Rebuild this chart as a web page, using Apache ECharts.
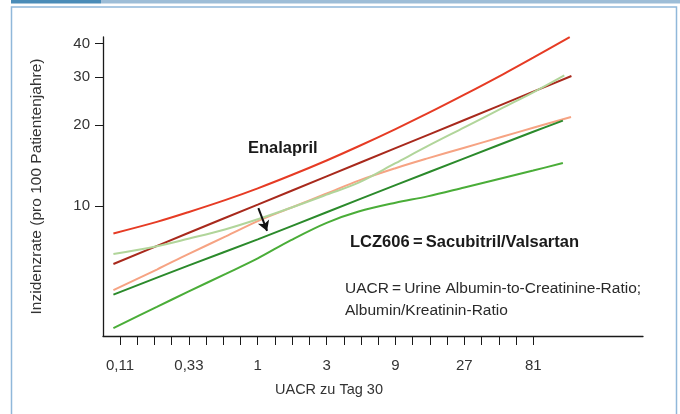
<!DOCTYPE html>
<html>
<head>
<meta charset="utf-8">
<script src="https://cdn.jsdelivr.net/npm/echarts@6/dist/echarts.min.js"></script>
<style>
html,body{margin:0;padding:0;background:#fff;}
#chart{width:680px;height:414px;}
</style>
</head>
<body>
<div id="chart"></div>
<script>
// ---- data ----
const uacrFine = [0.1, 0.2, 0.33, 0.6, 1, 1.7, 3, 5, 9, 15, 27, 50, 81];
const uacrCoarse = [0.1, 0.33, 1, 3, 9, 27, 81];

const enalaprilUpperX = uacrFine.concat([145]);
const enalaprilUpper = [7.93, 8.75, 9.50, 10.55, 11.64, 13.01, 14.76, 16.66, 19.29, 22.03, 25.85, 30.74, 35.42, 42.2];

const enalaprilMidX = uacrCoarse.concat([149]);
const enalaprilMid = [6.11, 7.96, 10.13, 12.89, 16.39, 20.84, 26.51, 30.3];

const enalaprilLowerX = uacrFine.concat([148]);
const enalaprilLower = [4.89, 5.83, 6.65, 7.73, 8.81, 9.87, 11.14, 12.43, 13.82, 15.02, 16.45, 18.10, 19.50, 21.38];

const lczUpperX = uacrFine.concat([133]);
const lczUpper = [6.65, 7.11, 7.58, 8.22, 8.95, 9.87, 11.03, 12.22, 14.42, 16.67, 19.56, 23.14, 26.38, 30.49];

const lczMidX = uacrCoarse.concat([130]);
const lczMid = [4.71, 6.03, 7.54, 9.50, 11.96, 15.02, 18.85, 20.73];

const lczLowerX = uacrFine.concat([130]);
const lczLower = [3.54, 4.24, 4.83, 5.62, 6.41, 7.49, 8.68, 9.55, 10.30, 10.87, 11.73, 12.72, 13.54, 14.45];

const xTickLabelValues = [1/9, 1/3, 1, 3, 9, 27, 81];
const xTickLabels = ['0,11', '0,33', '1', '3', '9', '27', '81'];
const xTickValues = [];
for (let k = -8; k <= 16; k++) xTickValues.push(Math.pow(3, k / 4));
const yTickValues = [10, 20, 30, 40];
const yTickLabels = ['10', '20', '30', '40'];

const arrowFrom = [1.01, 9.83];
const arrowTo = [1.16, 8.1];

const xAxisTitle = 'UACR zu Tag 30';
const yAxisTitle = 'Inzidenzrate (pro 100 Patientenjahre)';
const labelEnalapril = 'Enalapril';
const labelLcz = 'LCZ606\u2009=\u2009Sacubitril/Valsartan';
const note1 = 'UACR\u2009=\u2009Urine Albumin-to-Creatinine-Ratio;';
const note2 = 'Albumin/Kreatinin-Ratio';

// ---- chart ----
function pairs(xs, ys) { return xs.map((x, i) => [x, ys[i]]); }
const FONT = 'Liberation Sans';
const chart = echarts.init(document.getElementById('chart'), null, {renderer: 'canvas'});

function lineSeries(name, xs, ys, color, extra) {
  return Object.assign({
    name: name, type: 'line', data: pairs(xs, ys), smooth: 0.35,
    symbol: 'none', lineStyle: {color: color, width: 2}, z: 3, silent: true
  }, extra || {});
}

chart.setOption({
  animation: false,
  backgroundColor: '#ffffff',
  grid: {left: 103, right: 37, top: 37, bottom: 78, containLabel: false},
  xAxis: {
    type: 'log', logBase: 3, min: 0.0847, max: 466.7,
    axisLine: {show: true, lineStyle: {color: '#1a1a1a', width: 1.3}},
    axisTick: {show: true, customValues: xTickValues, length: 9, lineStyle: {color: '#1a1a1a', width: 1}},
    axisLabel: {
      show: true, customValues: xTickLabelValues, margin: 22,
      fontFamily: FONT, fontSize: 15, color: '#333',
      formatter: function (v) {
        let best = 0, bd = Infinity;
        xTickLabelValues.forEach((t, i) => { const d = Math.abs(Math.log(v / t)); if (d < bd) { bd = d; best = i; } });
        return xTickLabels[best];
      }
    },
    splitLine: {show: false}, minorTick: {show: false},
    name: xAxisTitle, nameLocation: 'middle', nameGap: 46,
    nameTextStyle: {fontFamily: FONT, fontSize: 14.5, color: '#333', padding: [0, 88, 0, 0]}
  },
  yAxis: {
    type: 'log', logBase: 10, min: 3.31, max: 42.24,
    axisLine: {show: true, lineStyle: {color: '#1a1a1a', width: 1.3}},
    axisTick: {show: true, customValues: yTickValues, length: 8, lineStyle: {color: '#1a1a1a', width: 1}},
    axisLabel: {
      show: true, customValues: yTickValues, margin: 13,
      fontFamily: FONT, fontSize: 15, color: '#333',
      formatter: function (v) { const i = yTickValues.findIndex(t => Math.abs(t - v) < 0.01); return i >= 0 ? yTickLabels[i] : ''; }
    },
    splitLine: {show: false}, minorTick: {show: false},
    name: yAxisTitle, nameLocation: 'middle', nameGap: 58,
    nameTextStyle: {fontFamily: FONT, fontSize: 15.5, color: '#333'}
  },
  series: [
    lineSeries('Enalapril oberes KI', enalaprilUpperX, enalaprilUpper, '#e63b24'),
    lineSeries('Enalapril', enalaprilMidX, enalaprilMid, '#a8291c', {
      markLine: {
        silent: true, symbol: ['none', 'arrow'], symbolSize: [9, 10],
        lineStyle: {color: '#111', width: 2, type: 'solid'}, label: {show: false},
        data: [[{coord: arrowFrom}, {coord: arrowTo}]]
      }
    }),
    lineSeries('Enalapril unteres KI', enalaprilLowerX, enalaprilLower, '#f6a383'),
    lineSeries('LCZ696 oberes KI', lczUpperX, lczUpper, '#b1d59a'),
    lineSeries('LCZ696', lczMidX, lczMid, '#2b8a2b'),
    lineSeries('LCZ696 unteres KI', lczLowerX, lczLower, '#4aad38')
  ],
  graphic: [
    {type: 'rect', shape: {x: 11, y: 0, width: 90, height: 3.5}, style: {fill: '#4a8cb8'}, silent: true},
    {type: 'rect', shape: {x: 101, y: 0, width: 579, height: 3.5}, style: {fill: '#9dbdd7'}, silent: true},
    {type: 'rect', shape: {x: 11.5, y: 7, width: 665, height: 420}, style: {fill: 'none', stroke: '#90b8da', lineWidth: 1.5}, silent: true},
    {type: 'text', left: 248, top: 140, style: {text: labelEnalapril, fontFamily: FONT, fontWeight: 'bold', fontSize: 16.5, fill: '#1a1a1a'}},
    {type: 'text', left: 350, top: 234, style: {text: labelLcz, fontFamily: FONT, fontWeight: 'bold', fontSize: 16.5, fill: '#1a1a1a'}},
    {type: 'text', left: 345, top: 281, style: {text: note1, fontFamily: FONT, fontSize: 15.5, fill: '#2a2a2a'}},
    {type: 'text', left: 345, top: 303, style: {text: note2, fontFamily: FONT, fontSize: 15.5, fill: '#2a2a2a'}}
  ]
});
</script>
</body>
</html>
